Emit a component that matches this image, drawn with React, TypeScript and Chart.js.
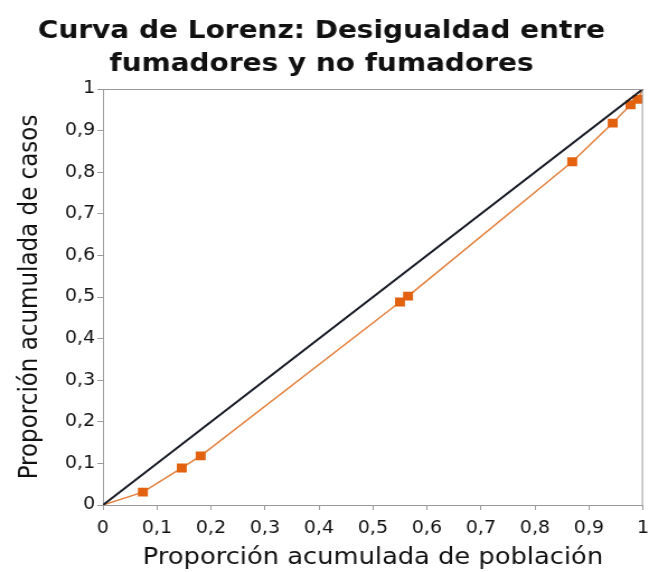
import React, { useEffect, useRef } from "react";
import { Chart, registerables } from "chart.js";

Chart.register(...registerables);

const titleLines = ["Curva de Lorenz: Desigualdad entre", "fumadores y no fumadores"];
const xTitle = "Proporción acumulada de población";
const yTitle = "Proporción acumulada de casos";

const lorenzX = [0, 0.074, 0.146, 0.181, 0.55, 0.565, 0.869, 0.944, 0.977, 0.99, 1];
const lorenzY = [0, 0.031, 0.089, 0.118, 0.488, 0.502, 0.825, 0.918, 0.962, 0.975, 1];
const equalityX = [0, 1];
const equalityY = [0, 1];

// The reference is rendered horizontally stretched: draw on a narrower canvas, display at 649px.
const CANVAS_W = 580;
const CANVAS_H = 572;

const fmt = (v: number) => (Math.round(v * 10) / 10).toString().replace(".", ",");

const frame = {
  id: "frame",
  afterDatasetsDraw(chart: any) {
    const { ctx, chartArea } = chart;
    ctx.save();
    ctx.strokeStyle = "#9a9a9a";
    ctx.lineWidth = 1;
    ctx.beginPath();
    ctx.moveTo(chartArea.left, chartArea.top + 0.5);
    ctx.lineTo(chartArea.right - 0.5, chartArea.top + 0.5);
    ctx.lineTo(chartArea.right - 0.5, chartArea.bottom);
    ctx.stroke();
    ctx.restore();
  },
};

export default function App() {
  const ref = useRef<HTMLCanvasElement>(null);
  useEffect(() => {
    const chart = new Chart(ref.current!, {
      type: "scatter",
      data: {
        datasets: [
          {
            data: equalityX.map((x, i) => ({ x, y: equalityY[i] })),
            showLine: true,
            borderColor: "#161a24",
            borderWidth: 2,
            pointRadius: 0,
          },
          {
            data: lorenzX.map((x, i) => ({ x, y: lorenzY[i] })),
            showLine: true,
            borderColor: "#e3803e",
            borderWidth: 1.5,
            pointStyle: "rect",
            pointRadius: lorenzX.map((x) => (x === 0 || x === 1 ? 0 : 6.3)),
            pointBackgroundColor: "#e2620f",
            pointBorderColor: "#e2620f",
            pointBorderWidth: 0,
          },
        ],
      },
      plugins: [frame],
      options: {
        animation: false,
        responsive: false,
        maintainAspectRatio: false,
        devicePixelRatio: 1,
        layout: { padding: { left: 0, right: 5.4, top: 0, bottom: 0 } },
        plugins: {
          legend: { display: false },
          tooltip: { enabled: false },
          title: {
            display: true,
            text: titleLines,
            color: "#111",
            font: { family: "DejaVu Sans", size: 25, weight: "bold", lineHeight: 1.32 },
            padding: { top: 14.5, bottom: 8.5 },
          },
        },
        scales: {
          x: {
            type: "linear",
            min: 0,
            max: 1,
            ticks: {
              stepSize: 0.1,
              callback: (v: any) => fmt(Number(v)),
              color: "#111",
              font: { family: "DejaVu Sans", size: 17 },
              padding: 8,
              maxRotation: 0,
            },
            grid: { drawOnChartArea: false, color: "#9a9a9a", tickLength: 5 },
            border: { color: "#9a9a9a", width: 1 },
            title: {
              display: true,
              text: xTitle,
              color: "#111",
              font: { family: "DejaVu Sans", size: 23 },
              padding: { top: 0, bottom: 0 },
            },
            afterFit: (s: any) => {
              s.height = 67;
              s.paddingRight = 0;
              s.paddingLeft = 0;
            },
          },
          y: {
            type: "linear",
            min: 0,
            max: 1,
            ticks: {
              stepSize: 0.1,
              callback: (v: any) => fmt(Number(v)),
              color: "#111",
              font: { family: "DejaVu Sans", size: 17 },
              padding: 2,
            },
            grid: { drawOnChartArea: false, color: "#9a9a9a", tickLength: 5 },
            border: { color: "#9a9a9a", width: 1 },
            title: {
              display: true,
              text: yTitle,
              color: "#111",
              font: { family: "DejaVu Sans", size: 23 },
              padding: { top: 13, bottom: 0 },
            },
            afterFit: (s: any) => {
              s.width = 92;
              s.paddingTop = 0;
              s.paddingBottom = 0;
            },
          },
        },
      },
    });
    return () => chart.destroy();
  }, []);
  return (
    <div style={{ position: "fixed", left: 0, top: 0, width: 649, height: 572, background: "#fff" }}>
      <canvas
        ref={ref}
        width={CANVAS_W}
        height={CANVAS_H}
        style={{ display: "block", width: 649, height: 572 }}
      />
    </div>
  );
}
